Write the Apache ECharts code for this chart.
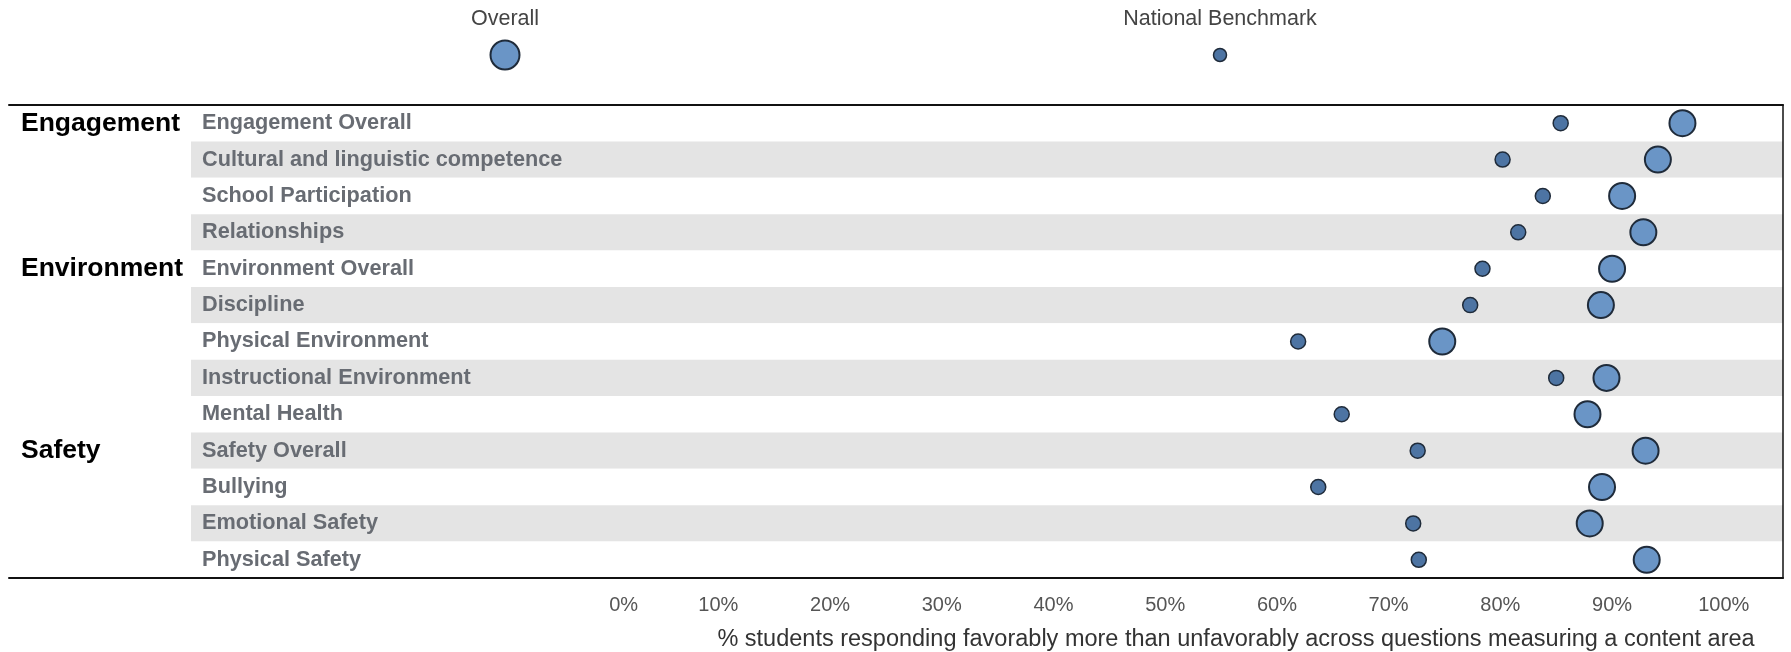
<!DOCTYPE html>
<html>
<head>
<meta charset="utf-8">
<script src="https://cdn.jsdelivr.net/npm/echarts@6/dist/echarts.min.js"></script>
<style>
  html, body { margin: 0; padding: 0; background: #fff; }
  #main { width: 1791px; height: 652px; }
</style>
</head>
<body>
<div id="main"></div>
<script>
const categories = [
  'Engagement Overall',
  'Cultural and linguistic competence',
  'School Participation',
  'Relationships',
  'Environment Overall',
  'Discipline',
  'Physical Environment',
  'Instructional Environment',
  'Mental Health',
  'Safety Overall',
  'Bullying',
  'Emotional Safety',
  'Physical Safety'
];
const groups = ['Engagement', '', '', '', 'Environment', '', '', '', '', 'Safety', '', '', ''];
const overall = [96.3, 94.1, 90.9, 92.8, 90.0, 89.0, 74.8, 89.5, 87.8, 93.0, 89.1, 88.0, 93.1];
const benchmark = [85.4, 80.2, 83.8, 81.6, 78.4, 77.3, 61.9, 85.0, 65.8, 72.6, 63.7, 72.2, 72.7];
const tickValues = [0, 10, 20, 30, 40, 50, 60, 70, 80, 90, 100];

const FONT = '"Liberation Sans", Arial, sans-serif';
const OVERALL_FILL = '#6a95c6';
const BENCH_FILL = '#4d74a3';
const EDGE = '#1f2b3a';

const chart = echarts.init(document.getElementById('main'), null, { renderer: 'canvas' });

// plain axis used only to draw the frame lines
function frameAxis(gridIndex, position, width) {
  return {
    type: 'value', gridIndex: gridIndex, position: position, min: 0, max: 1, z: 5,
    axisLine: { show: true, onZero: false, lineStyle: { color: '#111', width: width } },
    axisTick: { show: false }, axisLabel: { show: false }, splitLine: { show: false }
  };
}

const option = {
  animation: false,
  textStyle: { fontFamily: FONT },
  grid: [
    { left: 191, right: 8, top: 105, bottom: 74, outerBoundsMode: 'none' },   // plot
    { left: 9, right: 8, top: 105, bottom: 74, outerBoundsMode: 'none' }      // frame lines
  ],
  xAxis: [
    {
      type: 'value',
      gridIndex: 0,
      min: -37.2,
      max: 105.3,
      axisLine: { show: false },
      axisTick: { show: false },
      splitLine: { show: false },
      axisLabel: {
        customValues: tickValues,
        formatter: function (v) {
          return v === 0 ? '{z|0%}' : v + '%';
        },
        rich: {
          z: { color: '#555', fontSize: 20, padding: [0, 0, 0, 34] }
        },
        color: '#555',
        fontSize: 20,
        margin: 17
      },
      name: '% students responding favorably more than unfavorably across questions measuring a content area',
      nameLocation: 'middle',
      nameGap: 50,
      nameTextStyle: {
        color: '#333',
        fontSize: 23.5,
        padding: [0, 0, 0, 498]
      }
    },
    frameAxis(1, 'top', 2),
    frameAxis(1, 'bottom', 2)
  ],
  yAxis: [
    {
      type: 'category',
      gridIndex: 0,
      data: categories,
      inverse: true,
      axisLine: { show: false },
      axisTick: { show: false },
      axisLabel: {
        inside: true,
        margin: 11,
        color: '#686c73',
        fontWeight: 'bold',
        fontSize: 21.7
      },
      splitArea: {
        show: true,
        areaStyle: { color: ['#ffffff', '#e4e4e4'] }
      }
    },
    {
      type: 'category',
      gridIndex: 0,
      position: 'left',
      data: categories,
      inverse: true,
      axisLine: { show: false },
      axisTick: { show: false },
      axisLabel: {
        align: 'left',
        margin: 170,
        color: '#000',
        fontWeight: 'bold',
        fontSize: 26.5,
        formatter: function (v, i) { return groups[i]; }
      }
    },
    frameAxis(1, 'right', 1.5)
  ],
  graphic: [
    {
      type: 'text',
      style: { text: 'Overall', x: 505, y: 8, align: 'center', fill: '#444', fontSize: 21.5, fontFamily: FONT }
    },
    {
      type: 'circle', shape: { cx: 505, cy: 55, r: 14.5 },
      style: { fill: OVERALL_FILL, stroke: EDGE, lineWidth: 2 }
    },
    {
      type: 'text',
      style: { text: 'National Benchmark', x: 1220, y: 8, align: 'center', fill: '#444', fontSize: 21.5, fontFamily: FONT }
    },
    {
      type: 'circle', shape: { cx: 1220, cy: 55, r: 6.5 },
      style: { fill: BENCH_FILL, stroke: EDGE, lineWidth: 1.5 }
    }
  ],
  series: [
    {
      name: 'National Benchmark',
      type: 'scatter',
      xAxisIndex: 0,
      yAxisIndex: 0,
      symbolSize: 15,
      itemStyle: { color: BENCH_FILL, borderColor: EDGE, borderWidth: 1.5, opacity: 1 },
      data: benchmark.map((v, i) => [v, categories[i]])
    },
    {
      name: 'Overall',
      type: 'scatter',
      xAxisIndex: 0,
      yAxisIndex: 0,
      symbolSize: 26,
      itemStyle: { color: OVERALL_FILL, borderColor: EDGE, borderWidth: 2, opacity: 1 },
      data: overall.map((v, i) => [v, categories[i]])
    }
  ]
};

chart.setOption(option);
</script>
</body>
</html>
